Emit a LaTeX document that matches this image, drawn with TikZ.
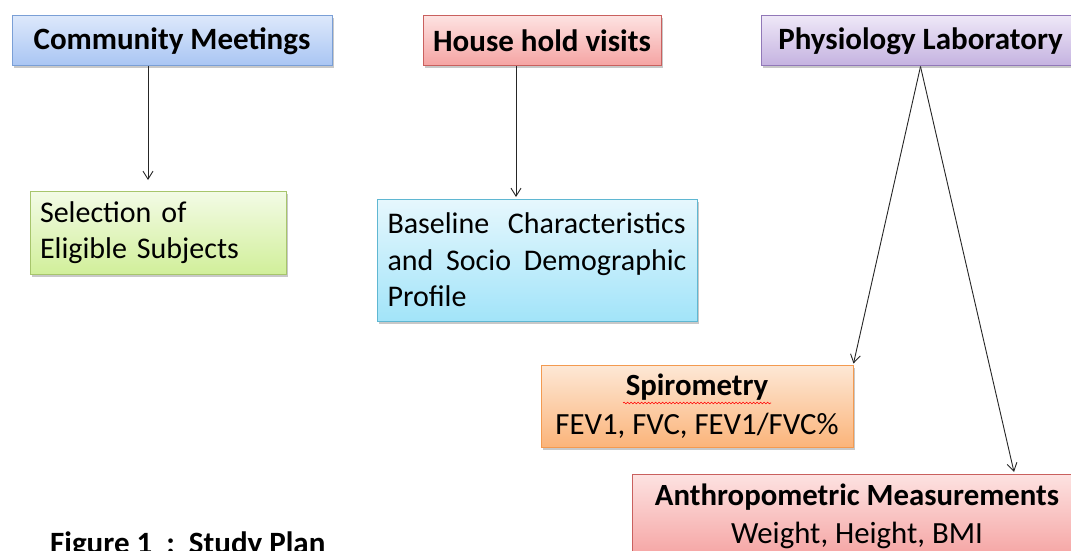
\documentclass[tikz,border=0pt]{standalone}
\usepackage{fontspec}
\setmainfont{Carlito}
\usetikzlibrary{shadows,decorations.pathmorphing,arrows.meta}
\definecolor{bluetop}{HTML}{DCE8FB}\definecolor{bluebot}{HTML}{A9C5F3}\definecolor{blueline}{HTML}{7A9FD6}
\definecolor{redtop}{HTML}{FDE2E1}\definecolor{redbot}{HTML}{F5A3A2}\definecolor{redline}{HTML}{C9605E}
\definecolor{purtop}{HTML}{EEE7F7}\definecolor{purbot}{HTML}{C4B2E0}\definecolor{purline}{HTML}{9178B8}
\definecolor{grntop}{HTML}{F3FBE6}\definecolor{grnbot}{HTML}{D1EF9A}\definecolor{grnline}{HTML}{A7C56C}
\definecolor{cyntop}{HTML}{E6F7FD}\definecolor{cynbot}{HTML}{A2E4F9}\definecolor{cynline}{HTML}{5FB7D2}
\definecolor{orgtop}{HTML}{FDE8D6}\definecolor{orgbot}{HTML}{FBB47A}\definecolor{orgline}{HTML}{F39A50}
\begin{document}
\begin{tikzpicture}[x=1pt,y=-1pt,
 box/.style={draw, line width=1pt, rectangle, inner sep=0pt,
   drop shadow={shadow xshift=2pt, shadow yshift=-2.5pt, opacity=0.3, fill=black!70}},
 hdr/.style={box, font=\fontsize{31}{36}\selectfont\bfseries, minimum height=50pt},
 body/.style={box, font=\fontsize{30}{36.5}\selectfont},
 body2/.style={box, font=\fontsize{30.8}{38.5}\selectfont},
 blueb/.style={top color=bluetop, bottom color=bluebot, draw=blueline},
 redb/.style={top color=redtop, bottom color=redbot, draw=redline},
 purb/.style={top color=purtop, bottom color=purbot, draw=purline},
 grnb/.style={top color=grntop, bottom color=grnbot, draw=grnline},
 cynb/.style={top color=cyntop, bottom color=cynbot, draw=cynline},
 orgb/.style={top color=orgtop, bottom color=orgbot, draw=orgline},
 arr/.style={-{Straight Barb[length=8pt,width=10pt]}, line width=0.9pt, draw=black!85},
]
\useasboundingbox[fill=white] (0,0) rectangle (1071,551);

\node[hdr, blueb, minimum width=320pt] (comm) at (172,41) {Community Meetings};
\node[hdr, redb, minimum width=238pt] (house) at (542,41) {House hold visits};
\node[hdr, purb, minimum width=319pt] (phys) at (920.5,41) {Physiology Laboratory};

\node[body, grnb, minimum width=256pt, minimum height=83pt, align=left, text width=236pt] (sel) at (158,232.5)
  {Selection of\\Eligible Subjects};
\node[body, cynb, minimum width=320pt, minimum height=122pt, align=left, text width=299pt] (base) at (537,260)
  {\makebox[298pt][s]{Baseline \hfill Characteristics}\\\makebox[299pt][s]{and \hfill Socio \hfill Demographic}\\Profile};
\node[body2, orgb, minimum width=312pt, minimum height=82pt, align=center] (spiro) at (697,406)
  {\textbf{Spirometry}\\FEV1, FVC, FEV1/FVC\%};
\node[body2, redb, minimum width=449pt, minimum height=84pt, align=center, anchor=north west] (anth) at (632,474)
  {\textbf{Anthropometric Measurements}\\Weight, Height, BMI};

\draw[red, line width=0.6pt, decorate, decoration={snake, amplitude=0.8pt, segment length=3.5pt}]
  ([xshift=-74pt, yshift=3pt]spiro.center) -- ([xshift=74pt, yshift=3pt]spiro.center);

\coordinate (c1) at (148,180);
\coordinate (c2) at (516,197);
\coordinate (c4) at (1014,472);
\draw[arr] (comm.south -| c1) -- (c1);
\draw[arr] (house.south -| c2) -- (c2);
\draw[arr] (phys.south) -- ([yshift=1pt]spiro.north east);
\draw[arr] (phys.south) -- (c4);

\node[font=\fontsize{31}{36}\selectfont\bfseries, anchor=base west, inner sep=0pt] (cap) at (50,553)
  {Figure 1\ \ :\ \ Study Plan};
\end{tikzpicture}
\end{document}
